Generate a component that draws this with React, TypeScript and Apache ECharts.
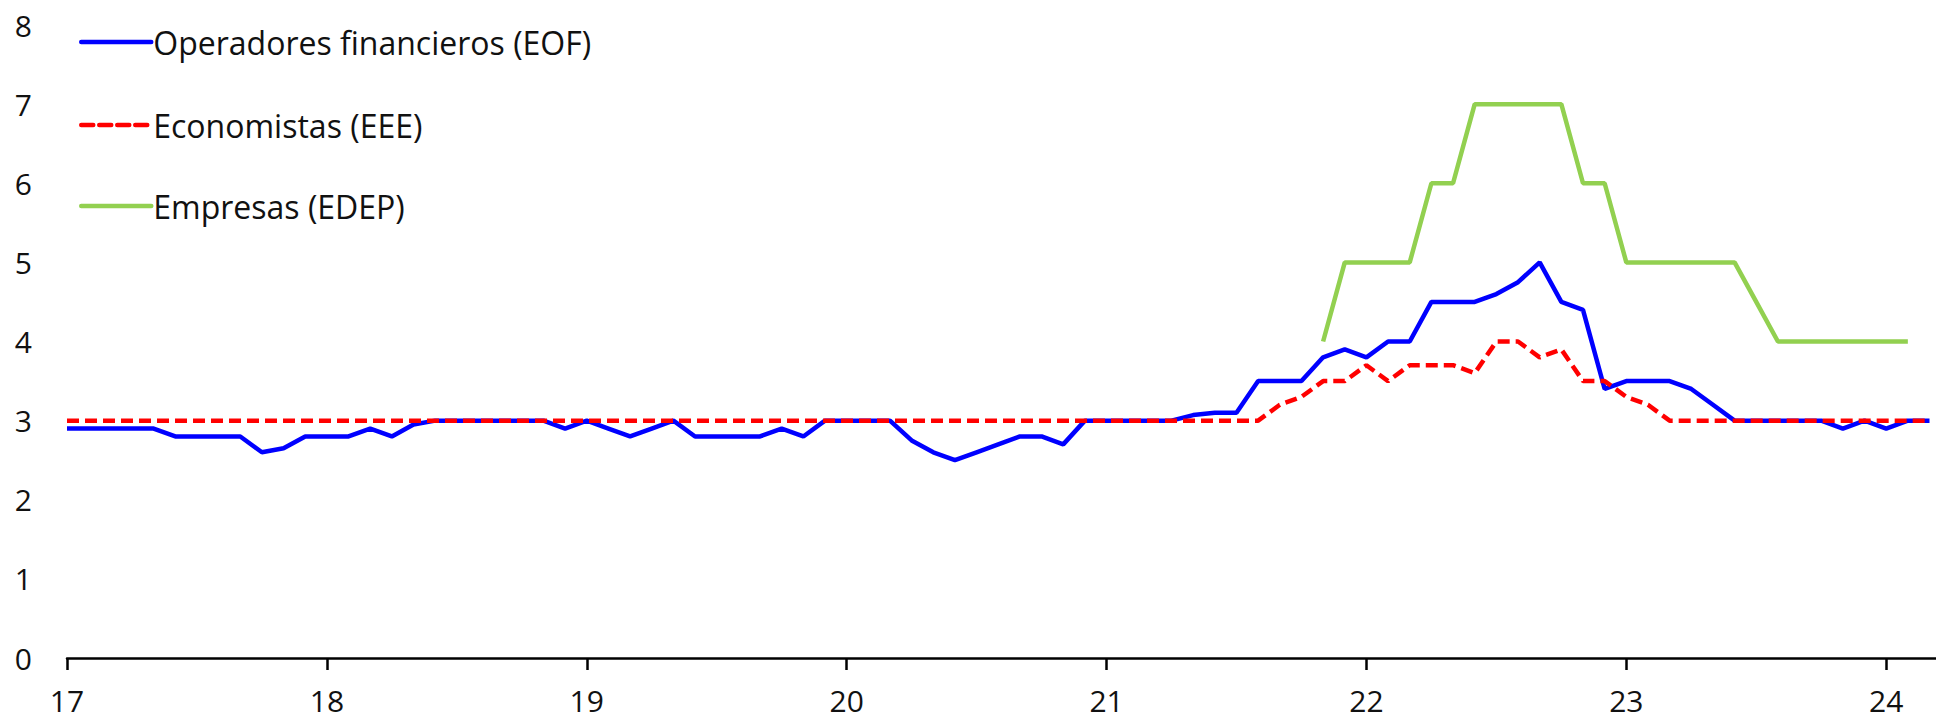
import React, { useEffect, useRef } from "react";
import * as echarts from "echarts";

// Monthly index: 0 = Jan 2017
const yearLabels = ["17", "18", "19", "20", "21", "22", "23", "24"];

const eofValues = [
  2.9, 2.9, 2.9, 2.9, 2.9, 2.8, 2.8, 2.8, 2.8, 2.6, 2.65, 2.8,
  2.8, 2.8, 2.9, 2.8, 2.95, 3.0, 3.0, 3.0, 3.0, 3.0, 3.0, 2.9,
  3.0, 2.9, 2.8, 2.9, 3.0, 2.8, 2.8, 2.8, 2.8, 2.9, 2.8, 3.0,
  3.0, 3.0, 3.0, 2.75, 2.6, 2.5, 2.6, 2.7, 2.8, 2.8, 2.7, 3.0,
  3.0, 3.0, 3.0, 3.0, 3.07, 3.1, 3.1, 3.5, 3.5, 3.5, 3.8, 3.9,
  3.8, 4.0, 4.0, 4.5, 4.5, 4.5, 4.6, 4.75, 5.0, 4.5, 4.4, 3.4,
  3.5, 3.5, 3.5, 3.4, 3.2, 3.0, 3.0, 3.0, 3.0, 3.0, 2.9, 3.0,
  2.9, 3.0, 3.0,
];

const eeeValues = [
  3.0, 3.0, 3.0, 3.0, 3.0, 3.0, 3.0, 3.0, 3.0, 3.0, 3.0, 3.0,
  3.0, 3.0, 3.0, 3.0, 3.0, 3.0, 3.0, 3.0, 3.0, 3.0, 3.0, 3.0,
  3.0, 3.0, 3.0, 3.0, 3.0, 3.0, 3.0, 3.0, 3.0, 3.0, 3.0, 3.0,
  3.0, 3.0, 3.0, 3.0, 3.0, 3.0, 3.0, 3.0, 3.0, 3.0, 3.0, 3.0,
  3.0, 3.0, 3.0, 3.0, 3.0, 3.0, 3.0, 3.0, 3.2, 3.3, 3.5, 3.5,
  3.7, 3.5, 3.7, 3.7, 3.7, 3.6, 4.0, 4.0, 3.8, 3.9, 3.5, 3.5,
  3.3, 3.2, 3.0, 3.0, 3.0, 3.0, 3.0, 3.0, 3.0, 3.0, 3.0, 3.0,
  3.0, 3.0, 3.0,
];

const edepStart = 58;
const edepValues = [
  4, 5, 5, 5, 5, 6, 6, 7, 7, 7, 7, 7, 6, 6,
  5, 5, 5, 5, 5, 5, 4.5, 4, 4, 4, 4, 4, 4, 4,
];

const seriesNames = [
  "Operadores financieros (EOF)",
  "Economistas (EEE)",
  "Empresas (EDEP)",
];

const FONT = "'Open Sans', Lato, sans-serif";

export default function App() {
  const ref = useRef<HTMLDivElement>(null);

  useEffect(() => {
    if (!ref.current) return;
    const chart = echarts.init(ref.current, null, { renderer: "svg" });

    const eofData = eofValues.map((v, i) => [i, v]);
    const eeeData = eeeValues.map((v, i) => [i, v]);
    const edepData = edepValues.map((v, i) => [edepStart + i, v]);

    const legendBase = (name: string, top: number) => ({
      data: [name],
      left: 79,
      top,
      orient: "vertical",
      itemWidth: 70,
      itemHeight: 14,
      itemGap: 0,
      padding: 0,
      itemStyle: { opacity: 0 },
      lineStyle: { width: 4.5, cap: "round" },
      textStyle: { fontFamily: FONT, fontSize: 32, fontWeight: 400, color: "#111", padding: [0, 0, 0, -3] },
    });

    chart.setOption({
      animation: false,
      backgroundColor: "#fff",
      grid: { left: 67, right: 0, top: 25, bottom: 62, containLabel: false },
      legend: [
        legendBase(seriesNames[0], 26),
        legendBase(seriesNames[1], 109),
        legendBase(seriesNames[2], 190),
      ],
      xAxis: {
        type: "value",
        min: 0,
        max: 86.3,
        interval: 12,
        axisLine: { show: true, lineStyle: { color: "#000", width: 2.5 } },
        axisTick: { show: true, length: 12, lineStyle: { color: "#000", width: 2.5 } },
        splitLine: { show: false },
        axisLabel: {
          show: true,
          showMaxLabel: false,
          margin: 29,
          fontFamily: FONT,
          fontSize: 30,
          fontWeight: 400,
          lineHeight: 26,
          color: "#111",
          formatter: (v: number) => {
            const k = Math.round(v / 12);
            return Math.abs(v - k * 12) < 1e-6 ? yearLabels[k] ?? "" : "";
          },
        },
      },
      yAxis: {
        type: "value",
        min: 0,
        max: 8,
        interval: 1,
        axisLine: { show: false },
        axisTick: { show: false },
        splitLine: { show: false },
        axisLabel: { margin: 35, fontFamily: FONT, fontSize: 30, fontWeight: 400, color: "#111" },
      },
      series: [
        {
          name: seriesNames[0],
          type: "line",
          data: eofData,
          showSymbol: false,
          symbol: "none",
          lineStyle: { color: "#0000FF", width: 4.5 },
          itemStyle: { color: "#0000FF" },
          z: 2,
        },
        {
          name: seriesNames[2],
          type: "line",
          data: edepData,
          showSymbol: false,
          symbol: "none",
          lineStyle: { color: "#92D050", width: 4.5 },
          itemStyle: { color: "#92D050" },
          z: 3,
        },
        {
          name: seriesNames[1],
          type: "line",
          data: eeeData,
          showSymbol: false,
          symbol: "none",
          lineStyle: { color: "#FF0000", width: 4.5, type: [12, 6] },
          itemStyle: { color: "#FF0000" },
          z: 4,
        },
      ],
    });

    return () => chart.dispose();
  }, []);

  return (
    <div
      ref={ref}
      style={{ position: "fixed", left: 0, top: 0, width: 1936, height: 720, background: "#fff" }}
    />
  );
}
